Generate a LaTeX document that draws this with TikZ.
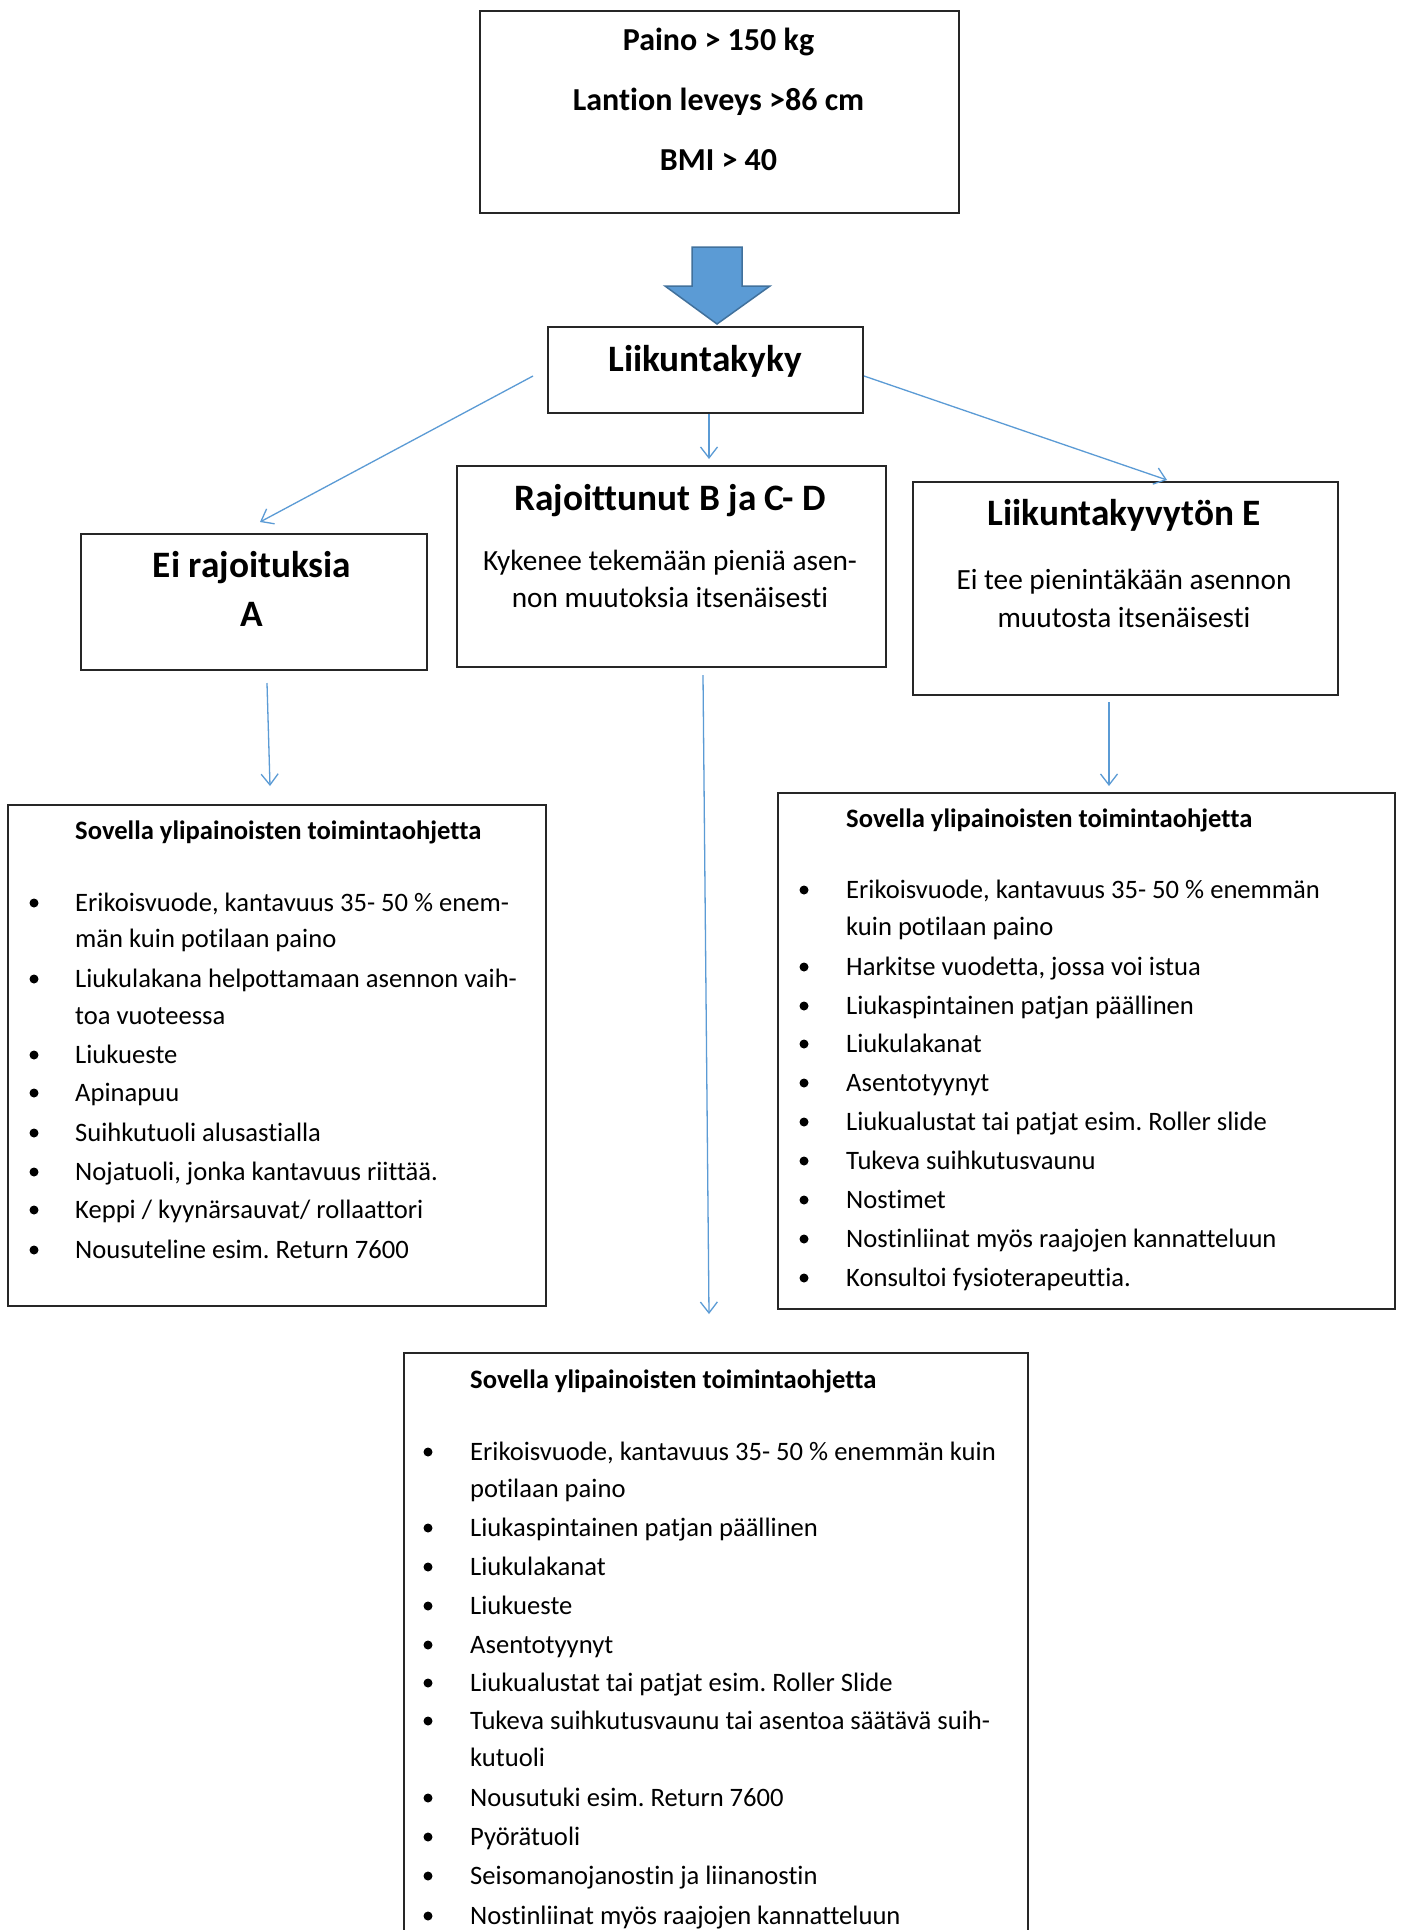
\documentclass[tikz,border=0pt]{standalone}
\usepackage{fontspec}
\setmainfont{Carlito}[Ligatures={NoCommon,NoRequired,NoContextual}]
\usetikzlibrary{arrows.meta,calc}
\definecolor{wblue}{HTML}{5B9BD5}
\definecolor{wblueD}{HTML}{41719C}
\frenchspacing
\begin{document}
\begin{tikzpicture}[x=1pt,y=-1pt,
  box/.style={draw=black!85,line width=1.6pt,inner sep=0pt,anchor=north west},
  conn/.style={draw=wblue,line width=1.3pt,-{Straight Barb[length=11pt,width=17pt,line width=1.3pt]}},
  ttl/.style={font=\fontsize{37.3}{44}\selectfont\bfseries,anchor=mid,inner sep=0pt,yshift=-7pt},
  crittxt/.style={font=\fontsize{32}{38}\selectfont\bfseries,anchor=mid,inner sep=0pt,yshift=-7pt},
  bod/.style={font=\fontsize{29.3}{35}\selectfont,anchor=mid,inner sep=0pt,yshift=-7pt},
  hd/.style={font=\fontsize{26.6}{32}\selectfont\bfseries,anchor=mid west,inner sep=0pt,yshift=-6pt},
  li/.style={font=\fontsize{26.6}{32}\selectfont,anchor=mid west,inner sep=0pt,yshift=-6pt},
  bul/.style={circle,fill=black,minimum size=9pt,inner sep=0pt}
]
\useasboundingbox (0,0) rectangle (1400,1930);
\clip (0,0) rectangle (1400,1930);
\fill[white] (0,0) rectangle (1400,1930);

% criteria box
\node[box,minimum width=479pt,minimum height=202pt] (crit) at (479,10) {};
\node[crittxt] (c1) at (718.5,41) {Paino > 150 kg};
\node[crittxt] (c2) at (718.5,101) {Lantion leveys >86 cm};
\node[crittxt] (c3) at (718.5,161) {BMI > 40};

% block arrow
\draw[fill=wblue,draw=wblueD,line width=1.5pt,line join=miter]
  (692,247) -- (742,247) -- (742,286) -- (770,286) -- (717,324) -- (665,286) -- (692,286) -- cycle;

% Liikuntakyky
\node[box,minimum width=315pt,minimum height=86pt] (liik) at (547,326) {};
\node[ttl] (liikt) at (705,362) {Liikuntakyky};

% Ei rajoituksia
\node[box,minimum width=346pt,minimum height=136pt] (eibox) at (80,533) {};
\node[ttl] (eit1) at (252,568) {Ei rajoituksia};
\node[ttl] (eit2) at (252,617) {A};

% Rajoittunut
\node[box,minimum width=429pt,minimum height=201pt] (rajbox) at (456,465) {};
\node[ttl] (rajt) at (670,501) {Rajoittunut B ja C- D};
\node[bod] (raj1) at (670,561) {Kykenee tekemään pieniä asen-};
\node[bod] (raj2) at (670,598) {non muutoksia itsenäisesti};

% Liikuntakyvyton
\node[box,minimum width=425pt,minimum height=213pt] (lebox) at (912,481) {};
\node[ttl] (let) at (1124,516) {Liikuntakyvytön E};
\node[bod] (le1) at (1124,580) {Ei tee pienintäkään asennon};
\node[bod] (le2) at (1124,618) {muutosta itsenäisesti};

% connectors
\coordinate (lA) at (533,376); \coordinate (lB) at (260,522);
\coordinate (mA) at (709,414); \coordinate (mB) at (709,459);
\coordinate (rA) at (864,376); \coordinate (rB) at (1167,480);
\coordinate (eA) at (267,683); \coordinate (eB) at (270,786);
\coordinate (jA) at (703,675); \coordinate (jB) at (709,1314);
\coordinate (kA) at (1109,702); \coordinate (kB) at (1109,786);
\draw[conn] (lA) -- (lB);
\draw[conn] (mA) -- (mB);
\draw[conn] (rA) -- (rB);
\draw[conn] (eA) -- (eB);
\draw[conn] (jA) -- (jB);
\draw[conn] (kA) -- (kB);

% left list
\node[box,minimum width=538pt,minimum height=501pt] (lbox) at (7,804) {};
\node[hd] (lh) at (75,831) {Sovella ylipainoisten toimintaohjetta};
\foreach \y/\t [count=\i] in {
  903/{Erikoisvuode, kantavuus 35- 50 \% enem-},
  939/{män kuin potilaan paino},
  979/{Liukulakana helpottamaan asennon vaih-},
  1016/{toa vuoteessa},
  1055/{Liukueste},
  1093/{Apinapuu},
  1133/{Suihkutuoli alusastialla},
  1172/{Nojatuoli, jonka kantavuus riittää.},
  1210/{Keppi / kyynärsauvat/ rollaattori},
  1250/{Nousuteline esim. Return 7600}}
  \node[li] (lt\i) at (75,\y) {\t};
\foreach \y [count=\i] in {903,979,1055,1093,1133,1172,1210,1250}
  \node[bul] (lb\i) at (34,\y) {};

% right list
\node[box,minimum width=617pt,minimum height=516pt] (rbox) at (777,792) {};
\node[hd] (rh) at (846,819) {Sovella ylipainoisten toimintaohjetta};
\foreach \y/\t [count=\i] in {
  890/{Erikoisvuode, kantavuus 35- 50 \% enemmän},
  927/{kuin potilaan paino},
  967/{Harkitse vuodetta, jossa voi istua},
  1006/{Liukaspintainen patjan päällinen},
  1044/{Liukulakanat},
  1083/{Asentotyynyt},
  1122/{Liukualustat tai patjat esim. Roller slide},
  1161/{Tukeva suihkutusvaunu},
  1200/{Nostimet},
  1239/{Nostinliinat myös raajojen kannatteluun},
  1278/{Konsultoi fysioterapeuttia.}}
  \node[li] (rt\i) at (846,\y) {\t};
\foreach \y [count=\i] in {890,967,1006,1044,1083,1122,1161,1200,1239,1278}
  \node[bul] (rb\i) at (804,\y) {};

% bottom list
\node[box,minimum width=624pt,minimum height=700pt] (bbox) at (403,1352) {};
\node[hd] (bh) at (470,1380) {Sovella ylipainoisten toimintaohjetta};
\foreach \y/\t [count=\i] in {
  1452/{Erikoisvuode, kantavuus 35- 50 \% enemmän kuin},
  1489/{potilaan paino},
  1528/{Liukaspintainen patjan päällinen},
  1567/{Liukulakanat},
  1606/{Liukueste},
  1645/{Asentotyynyt},
  1683/{Liukualustat tai patjat esim. Roller Slide},
  1721/{Tukeva suihkutusvaunu tai asentoa säätävä suih-},
  1758/{kutuoli},
  1798/{Nousutuki esim. Return 7600},
  1837/{Pyörätuoli},
  1876/{Seisomanojanostin ja liinanostin},
  1916/{Nostinliinat myös raajojen kannatteluun}}
  \node[li] (bt\i) at (470,\y) {\t};
\foreach \y [count=\i] in {1452,1528,1567,1606,1645,1683,1721,1798,1837,1876,1916}
  \node[bul] (bb\i) at (428,\y) {};
\end{tikzpicture}
\end{document}
